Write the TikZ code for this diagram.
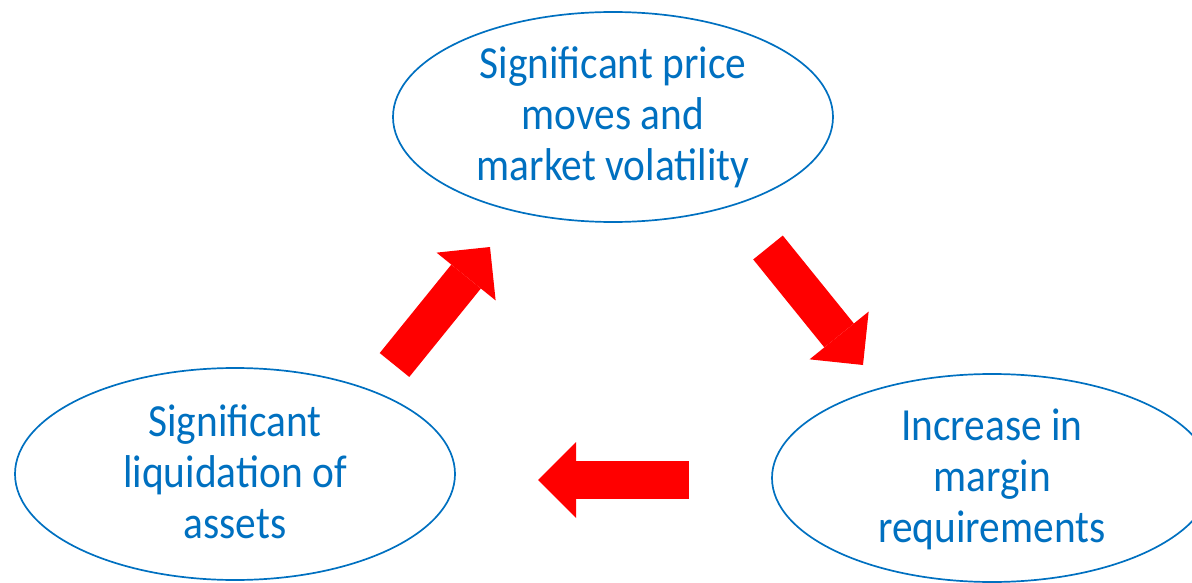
\documentclass[tikz,border=0pt]{standalone}
\usepackage{fontspec}
\setmainfont[FakeStretch=0.9]{Carlito}
\usetikzlibrary{shapes.geometric,arrows.meta}
\definecolor{cblue}{RGB}{0,112,192}
\definecolor{cred}{RGB}{255,0,0}
\tikzset{
  bubble/.style={ellipse, draw=cblue, line width=1.7pt, minimum width=440pt,
    minimum height=210pt, inner sep=0pt, align=center, text=cblue,
    font=\fontsize{46}{51}\selectfont, text height=135pt, text depth=7pt},
  flow/.style={draw=cred, line width=38pt,
    -{Triangle[width=76pt,length=38pt,line width=0pt]}}
}
\begin{document}
\begin{tikzpicture}[x=1pt,y=-1pt]
\useasboundingbox (0,0) rectangle (1192,583);
\node[bubble] (top) at (613,117) {Significant price\\moves and\\market volatility};
\node[bubble, minimum height=212pt] (left) at (235,474) {Significant\\liquidation of\\assets};
\node[bubble, minimum height=208pt] (right) at (992,478) {Increase in\\margin\\requirements};
\coordinate (a1s) at (768,247.5);
\coordinate (a1e) at (863,365);
\coordinate (a2s) at (689,480);
\coordinate (a2e) at (538,480);
\coordinate (a3s) at (394.5,365);
\coordinate (a3e) at (490,247);
\draw[flow] (a1s) -- (a1e);
\draw[flow] (a2s) -- (a2e);
\draw[flow] (a3s) -- (a3e);
\end{tikzpicture}
\end{document}
